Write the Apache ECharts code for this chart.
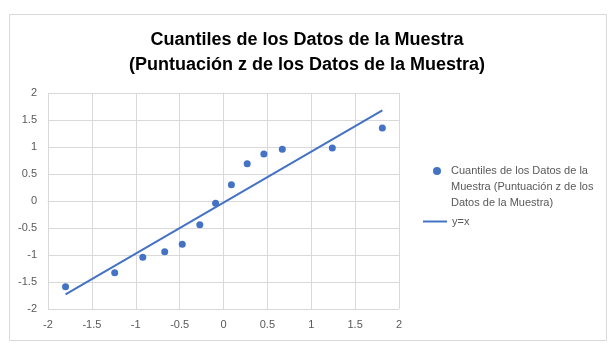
<!DOCTYPE html>
<html lang="es">
<head>
    <meta charset="UTF-8">
    <title>Cuantiles de los Datos de la Muestra</title>
    <script src="https://cdn.jsdelivr.net/npm/echarts@6/dist/echarts.min.js"></script>
</head>
<body style="padding: 0; margin: 0; background: #fff">
    <div id="main" style="width: 614px; height: 352px;"></div>
<script>
    // valores
    var xTeorico = [-1.80, -1.24, -0.92, -0.67, -0.47, -0.27, -0.09, 0.09, 0.27, 0.46, 0.67, 1.24, 1.81];
    var zMuestra = [-1.59, -1.33, -1.04, -0.94, -0.80, -0.44, -0.04, 0.30, 0.69, 0.87, 0.96, 0.98, 1.35];
    var lineaX = [-1.80, 1.81];
    var lineaY = [-1.73, 1.68];
    var nombrePuntos = 'Cuantiles de los Datos de la Muestra (Puntuación z de los Datos de la Muestra)';
    var nombreLinea = 'y=x';

    var puntos = xTeorico.map(function (x, i) { return [x, zMuestra[i]]; });
    var linea = lineaX.map(function (x, i) { return [x, lineaY[i]]; });

    var azul = '#4472c4';
    var gris = '#d9d9d9';
    var texto = '#595959';
    var fuente = 'Liberation Sans';

    var myChart = echarts.init(document.getElementById('main'));
    var option = {
        backgroundColor: '#fff',
        animation: false,
        title: {
            text: 'Cuantiles de los Datos de la Muestra\n(Puntuación z de los Datos de la Muestra)',
            left: 'center',
            top: 28,
            padding: 0,
            textStyle: {
                fontFamily: fuente,
                fontWeight: 'bold',
                fontSize: 18,
                lineHeight: 25,
                color: '#000'
            }
        },
        graphic: [{
            type: 'rect',
            shape: { x: 9.5, y: 14.5, width: 597, height: 326 },
            style: { fill: 'none', stroke: gris, lineWidth: 1 },
            silent: true
        }],
        legend: [{
            data: [{ name: nombrePuntos, icon: 'circle' }],
            // dos lineas vacias para que el punto quede en la primera linea
            formatter: function () {
                return ' \n \nCuantiles de los Datos de la\nMuestra (Puntuación z de los\nDatos de la Muestra)';
            },
            orient: 'vertical',
            left: 433,
            top: 131,
            padding: 0,
            itemWidth: 8,
            itemHeight: 8,
            textStyle: {
                fontFamily: fuente,
                fontSize: 11,
                lineHeight: 16,
                color: texto,
                padding: [0, 0, 0, 5]
            }
        }, {
            data: [{ name: nombreLinea, icon: 'path://M0,0L24,0L24,2L0,2Z' }],
            orient: 'vertical',
            left: 423,
            top: 216,
            padding: 0,
            itemWidth: 24,
            itemHeight: 2,
            textStyle: {
                fontFamily: fuente,
                fontSize: 11,
                color: texto
            }
        }],
        grid: {
            left: 48,
            right: 215,
            top: 93,
            bottom: 43,
            containLabel: false
        },
        xAxis: {
            type: 'value',
            min: -2,
            max: 2,
            interval: 0.5,
            axisLine: { show: true, lineStyle: { color: gris } },
            axisTick: { show: false },
            splitLine: { show: true, lineStyle: { color: gris } },
            axisLabel: { color: texto, fontFamily: fuente, fontSize: 11, margin: 10 }
        },
        yAxis: {
            type: 'value',
            min: -2,
            max: 2,
            interval: 0.5,
            axisLine: { show: true, lineStyle: { color: gris } },
            axisTick: { show: false },
            splitLine: { show: true, lineStyle: { color: gris } },
            axisLabel: { color: texto, fontFamily: fuente, fontSize: 11, margin: 11 }
        },
        series: [{
            name: nombrePuntos,
            type: 'scatter',
            symbol: 'circle',
            symbolSize: 7,
            itemStyle: { color: azul, opacity: 1 },
            data: puntos
        }, {
            name: nombreLinea,
            type: 'line',
            symbol: 'none',
            lineStyle: { color: azul, width: 2 },
            itemStyle: { color: azul },
            data: linea
        }]
    };
    myChart.setOption(option);
</script>
</body>
</html>
